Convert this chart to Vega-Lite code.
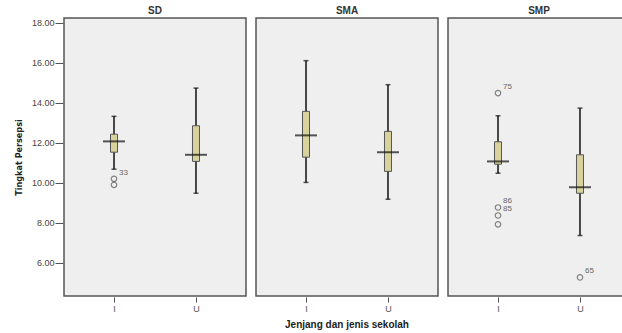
{
  "$schema": "https://vega.github.io/schema/vega-lite/v6.json",
  "padding": {"left": 14, "top": 6, "right": 0, "bottom": 0},
  "background": "white",
  "data": {
    "values": [
      {"kind": "box", "school": "SD", "jk": "I", "lower": 10.68, "q1": 11.53, "median": 12.07, "q3": 12.43, "upper": 13.32},
      {"kind": "box", "school": "SD", "jk": "U", "lower": 9.48, "q1": 11.07, "median": 11.4, "q3": 12.85, "upper": 14.73},
      {"kind": "box", "school": "SMA", "jk": "I", "lower": 10.02, "q1": 11.28, "median": 12.37, "q3": 13.57, "upper": 16.1},
      {"kind": "box", "school": "SMA", "jk": "U", "lower": 9.18, "q1": 10.57, "median": 11.53, "q3": 12.57, "upper": 14.9},
      {"kind": "box", "school": "SMP", "jk": "I", "lower": 10.48, "q1": 10.93, "median": 11.07, "q3": 12.05, "upper": 13.35},
      {"kind": "box", "school": "SMP", "jk": "U", "lower": 7.37, "q1": 9.48, "median": 9.78, "q3": 11.4, "upper": 13.73},
      {"kind": "out", "school": "SD", "jk": "I", "value": 10.2, "label": "33"},
      {"kind": "out", "school": "SD", "jk": "I", "value": 9.9, "label": ""},
      {"kind": "out", "school": "SMP", "jk": "I", "value": 14.48, "label": "75"},
      {"kind": "out", "school": "SMP", "jk": "I", "value": 8.77, "label": "86"},
      {"kind": "out", "school": "SMP", "jk": "I", "value": 8.37, "label": "85"},
      {"kind": "out", "school": "SMP", "jk": "I", "value": 7.93, "label": ""},
      {"kind": "out", "school": "SMP", "jk": "U", "value": 5.28, "label": "65"}
    ]
  },
  "facet": {
    "column": {
      "field": "school",
      "type": "nominal",
      "sort": ["SD", "SMA", "SMP"],
      "header": {
        "title": "Jenjang dan jenis sekolah",
        "titleOrient": "bottom",
        "titleFont": "Liberation Sans",
        "titleFontSize": 10,
        "titleFontWeight": "bold",
        "titleColor": "#222",
        "titlePadding": -3,
        "labelOrient": "top",
        "labelFontSize": 10,
        "labelFontWeight": "bold",
        "labelFont": "Liberation Sans",
        "labelColor": "#333",
        "labelPadding": 1
      }
    }
  },
  "spacing": 8,
  "spec": {
    "width": 182,
    "height": 278,
    "encoding": {
      "x": {
        "field": "jk",
        "type": "nominal",
        "sort": ["I", "U"],
        "scale": {"type": "point", "padding": 0.61, "domain": ["I", "U"]},
        "axis": {
          "title": null,
          "labelAngle": 0,
          "labelFont": "Liberation Sans",
          "labelFontSize": 9,
          "labelColor": "#555",
          "labelPadding": 2,
          "domain": false,
          "tickSize": 5,
          "tickColor": "#555",
          "grid": false
        }
      }
    },
    "layer": [
      {
        "transform": [{"filter": "datum.kind === 'box'"}],
        "mark": {"type": "rule", "color": "#111", "strokeWidth": 1.5},
        "encoding": {
          "y": {
            "field": "lower",
            "type": "quantitative",
            "scale": {"domain": [4.35, 18.23], "nice": false, "zero": false},
            "axis": {
              "title": "Tingkat Persepsi",
              "titleFont": "DejaVu Sans Condensed, Liberation Sans",
              "titleFontSize": 9,
              "titleFontWeight": "bold",
              "titleColor": "#222",
              "titlePadding": 8,
              "values": [6, 8, 10, 12, 14, 16, 18],
              "format": ".2f",
              "labelFont": "Liberation Sans",
              "labelFontSize": 9,
              "labelColor": "#444",
              "labelPadding": 1,
              "tickSize": 8,
              "tickColor": "#555",
              "domain": false,
              "grid": false
            }
          },
          "y2": {"field": "upper"}
        }
      },
      {
        "transform": [{"filter": "datum.kind === 'box'"}],
        "mark": {"type": "tick", "color": "#111", "thickness": 1.5, "size": 5},
        "encoding": {"y": {"field": "lower", "type": "quantitative"}}
      },
      {
        "transform": [{"filter": "datum.kind === 'box'"}],
        "mark": {"type": "tick", "color": "#111", "thickness": 1.5, "size": 5},
        "encoding": {"y": {"field": "upper", "type": "quantitative"}}
      },
      {
        "transform": [{"filter": "datum.kind === 'box'"}],
        "mark": {"type": "bar", "width": 7, "fill": "#d8d29c", "stroke": "#555", "strokeWidth": 1},
        "encoding": {"y": {"field": "q1", "type": "quantitative"}, "y2": {"field": "q3"}}
      },
      {
        "transform": [{"filter": "datum.kind === 'box'"}],
        "mark": {"type": "tick", "color": "#111", "thickness": 2, "size": 22},
        "encoding": {"y": {"field": "median", "type": "quantitative"}}
      },
      {
        "transform": [{"filter": "datum.kind === 'out'"}],
        "mark": {"type": "point", "shape": "circle", "filled": false, "stroke": "#555", "strokeWidth": 1.2, "size": 30},
        "encoding": {"y": {"field": "value", "type": "quantitative"}}
      },
      {
        "transform": [{"filter": "datum.kind === 'out'"}],
        "mark": {"type": "text", "align": "left", "dx": 5, "dy": -6, "fontSize": 8, "font": "Liberation Sans", "color": "#666"},
        "encoding": {"y": {"field": "value", "type": "quantitative"}, "text": {"field": "label"}}
      }
    ]
  },
  "config": {
    "view": {"fill": "#efefef", "stroke": "#555", "strokeWidth": 1.5},
    "axis": {"labelFont": "Liberation Sans"}
  }
}
